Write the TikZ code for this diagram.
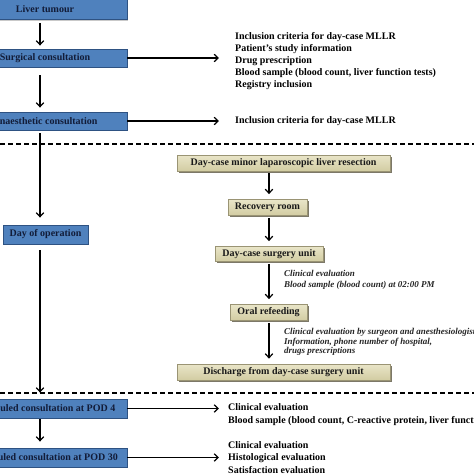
\documentclass[tikz,border=0pt]{standalone}
\usepackage{fontspec}
\setmainfont{Liberation Serif}
\usetikzlibrary{arrows.meta,shadows}
\definecolor{bluefill}{HTML}{4F81BD}
\definecolor{blueedge}{HTML}{2E5282}
\definecolor{bluetext}{HTML}{121C38}
\definecolor{beigetop}{HTML}{E9E5C8}
\definecolor{beigebot}{HTML}{D2CCA2}
\definecolor{beigeedge}{HTML}{9A9474}
\definecolor{beigeshadow}{HTML}{6E6A58}
\tikzset{
  bluebox/.style={rectangle, fill=bluefill, draw=blueedge, line width=0.9pt,
    text=bluetext, font=\fontsize{10}{11}\selectfont\bfseries, inner sep=0pt,
    drop shadow={shadow xshift=1pt, shadow yshift=-1pt, fill=black!35, opacity=0.6}},
  beigebox/.style={rectangle, top color=beigetop, bottom color=beigebot, draw=beigeedge,
    line width=0.8pt, text=black!90, font=\fontsize{10}{11}\selectfont\bfseries, inner sep=0pt,
    drop shadow={shadow xshift=1.6pt, shadow yshift=-1.6pt, fill=beigeshadow, opacity=0.9}},
  infotext/.style={anchor=west, align=left, inner sep=0pt, text=black,
    font=\fontsize{10}{12}\selectfont\bfseries},
  italtext/.style={anchor=west, align=left, inner sep=0pt, text=black!85,
    font=\fontsize{9}{11}\selectfont\bfseries\itshape},
  arr/.style={-{Straight Barb[length=4pt,width=7.5pt,line width=1.2pt]}, line width=1.3pt, black},
  sepline/.style={line width=1.3pt, dash pattern=on 5pt off 3pt, black}
}
\begin{document}
\begin{tikzpicture}[x=1pt,y=-1pt]
\useasboundingbox (0,0) rectangle (474,474);
\clip (0,0) rectangle (474,474);
\fill[white] (0,0) rectangle (474,474);

% left blue column
\node[bluebox, minimum width=164pt, minimum height=20pt] (lt) at (45,9.5) {Liver tumour};
\node[bluebox, minimum width=164pt, minimum height=18pt] (surg) at (45,58) {Surgical consultation};
\node[bluebox, minimum width=164pt, minimum height=18pt] (anae) at (45,121) {Anaesthetic consultation};
\node[bluebox, minimum width=85pt, minimum height=19pt] (dop) at (45.5,234.5) {Day of operation};
\node[bluebox, minimum width=164pt, minimum height=19pt] (pod4) at (45,408.5) {Scheduled consultation at POD 4};
\node[bluebox, minimum width=164pt, minimum height=19pt] (pod30) at (45,457.5) {Scheduled consultation at POD 30};

% separators
\coordinate (sepAl) at (0,144);
\coordinate (sepAr) at (474,144);
\coordinate (sepBl) at (0,393);
\coordinate (sepBr) at (474,393);
\draw[sepline] (sepAl) -- (sepAr);
\draw[sepline] (sepBl) -- (sepBr);

% right info texts
\node[infotext] (t1) at (235,61) {Inclusion criteria for day-case MLLR\\Patient’s study information\\Drug prescription\\Blood sample (blood count, liver function tests)\\Registry inclusion};
\node[infotext] (t2) at (235,121) {Inclusion criteria for day-case MLLR};
\node[infotext, font=\fontsize{10}{13}\selectfont\bfseries] (t3) at (228,414.5) {Clinical evaluation\\Blood sample (blood count, C-reactive protein, liver function tests)};
\node[infotext, font=\fontsize{10}{12.5}\selectfont\bfseries] (t4) at (228,457.5) {Clinical evaluation\\Histological evaluation\\Satisfaction evaluation};

% beige column
\coordinate (col) at (269,0);
\node[beigebox, minimum width=213pt, minimum height=16pt] (dml) at (283.5,163) {Day-case minor laparoscopic liver resection};
\node[beigebox, minimum width=79pt, minimum height=16pt] (rec) at (267.5,207.5) {Recovery room};
\node[beigebox, minimum width=108pt, minimum height=15pt] (dcsu) at (269,254) {Day-case surgery unit};
\node[beigebox, minimum width=77pt, minimum height=16pt] (oral) at (268.5,312.5) {Oral refeeding};
\node[beigebox, minimum width=213pt, minimum height=16pt] (dis) at (283.5,372) {Discharge from day-case surgery unit};

\node[italtext] (i1) at (284,279.5) {Clinical evaluation\\Blood sample (blood count) at 02:00 PM};
\node[italtext, font=\fontsize{9}{9.8}\selectfont\bfseries\itshape] (i2) at (284,342) {Clinical evaluation by surgeon and anesthesiologist\\Information, phone number of hospital,\\drugs prescriptions};

% vertical arrows left
\draw[arr, shorten <=3pt, shorten >=3pt] ([xshift=-5pt]lt.south) -- ([xshift=-5pt]surg.north);
\draw[arr, shorten <=8pt, shorten >=4pt] ([xshift=-5pt]surg.south) -- ([xshift=-5pt]anae.north);
\draw[arr, shorten <=3pt, shorten >=7pt] ([xshift=-5pt]anae.south) -- ([xshift=-5.5pt]dop.north);
\draw[arr, shorten <=6pt, shorten >=6pt] ([xshift=-5.5pt]dop.south) -- ([xshift=-5pt]pod4.north);
\draw[arr, shorten <=1pt, shorten >=6pt] ([xshift=-5pt]pod4.south) -- ([xshift=-5pt]pod30.north);

% horizontal arrows
\draw[arr, shorten >=16pt] (surg.east) -- (surg.east -| t1.west);
\draw[arr, shorten >=16pt] (anae.east) -- (anae.east -| t2.west);
\draw[arr, shorten >=9pt] (pod4.east) -- (pod4.east -| t3.west);
\draw[arr, shorten >=9pt] (pod30.east) -- (pod30.east -| t4.west);

% beige arrows
\draw[arr, shorten <=2pt, shorten >=5pt] (dml.south -| col) -- (rec.north -| col);
\draw[arr, shorten <=2pt, shorten >=5pt] (rec.south -| col) -- (dcsu.north -| col);
\draw[arr, shorten <=2pt, shorten >=5pt] (dcsu.south -| col) -- (oral.north -| col);
\draw[arr, shorten <=2pt, shorten >=5pt] (oral.south -| col) -- (dis.north -| col);
\end{tikzpicture}
\end{document}
